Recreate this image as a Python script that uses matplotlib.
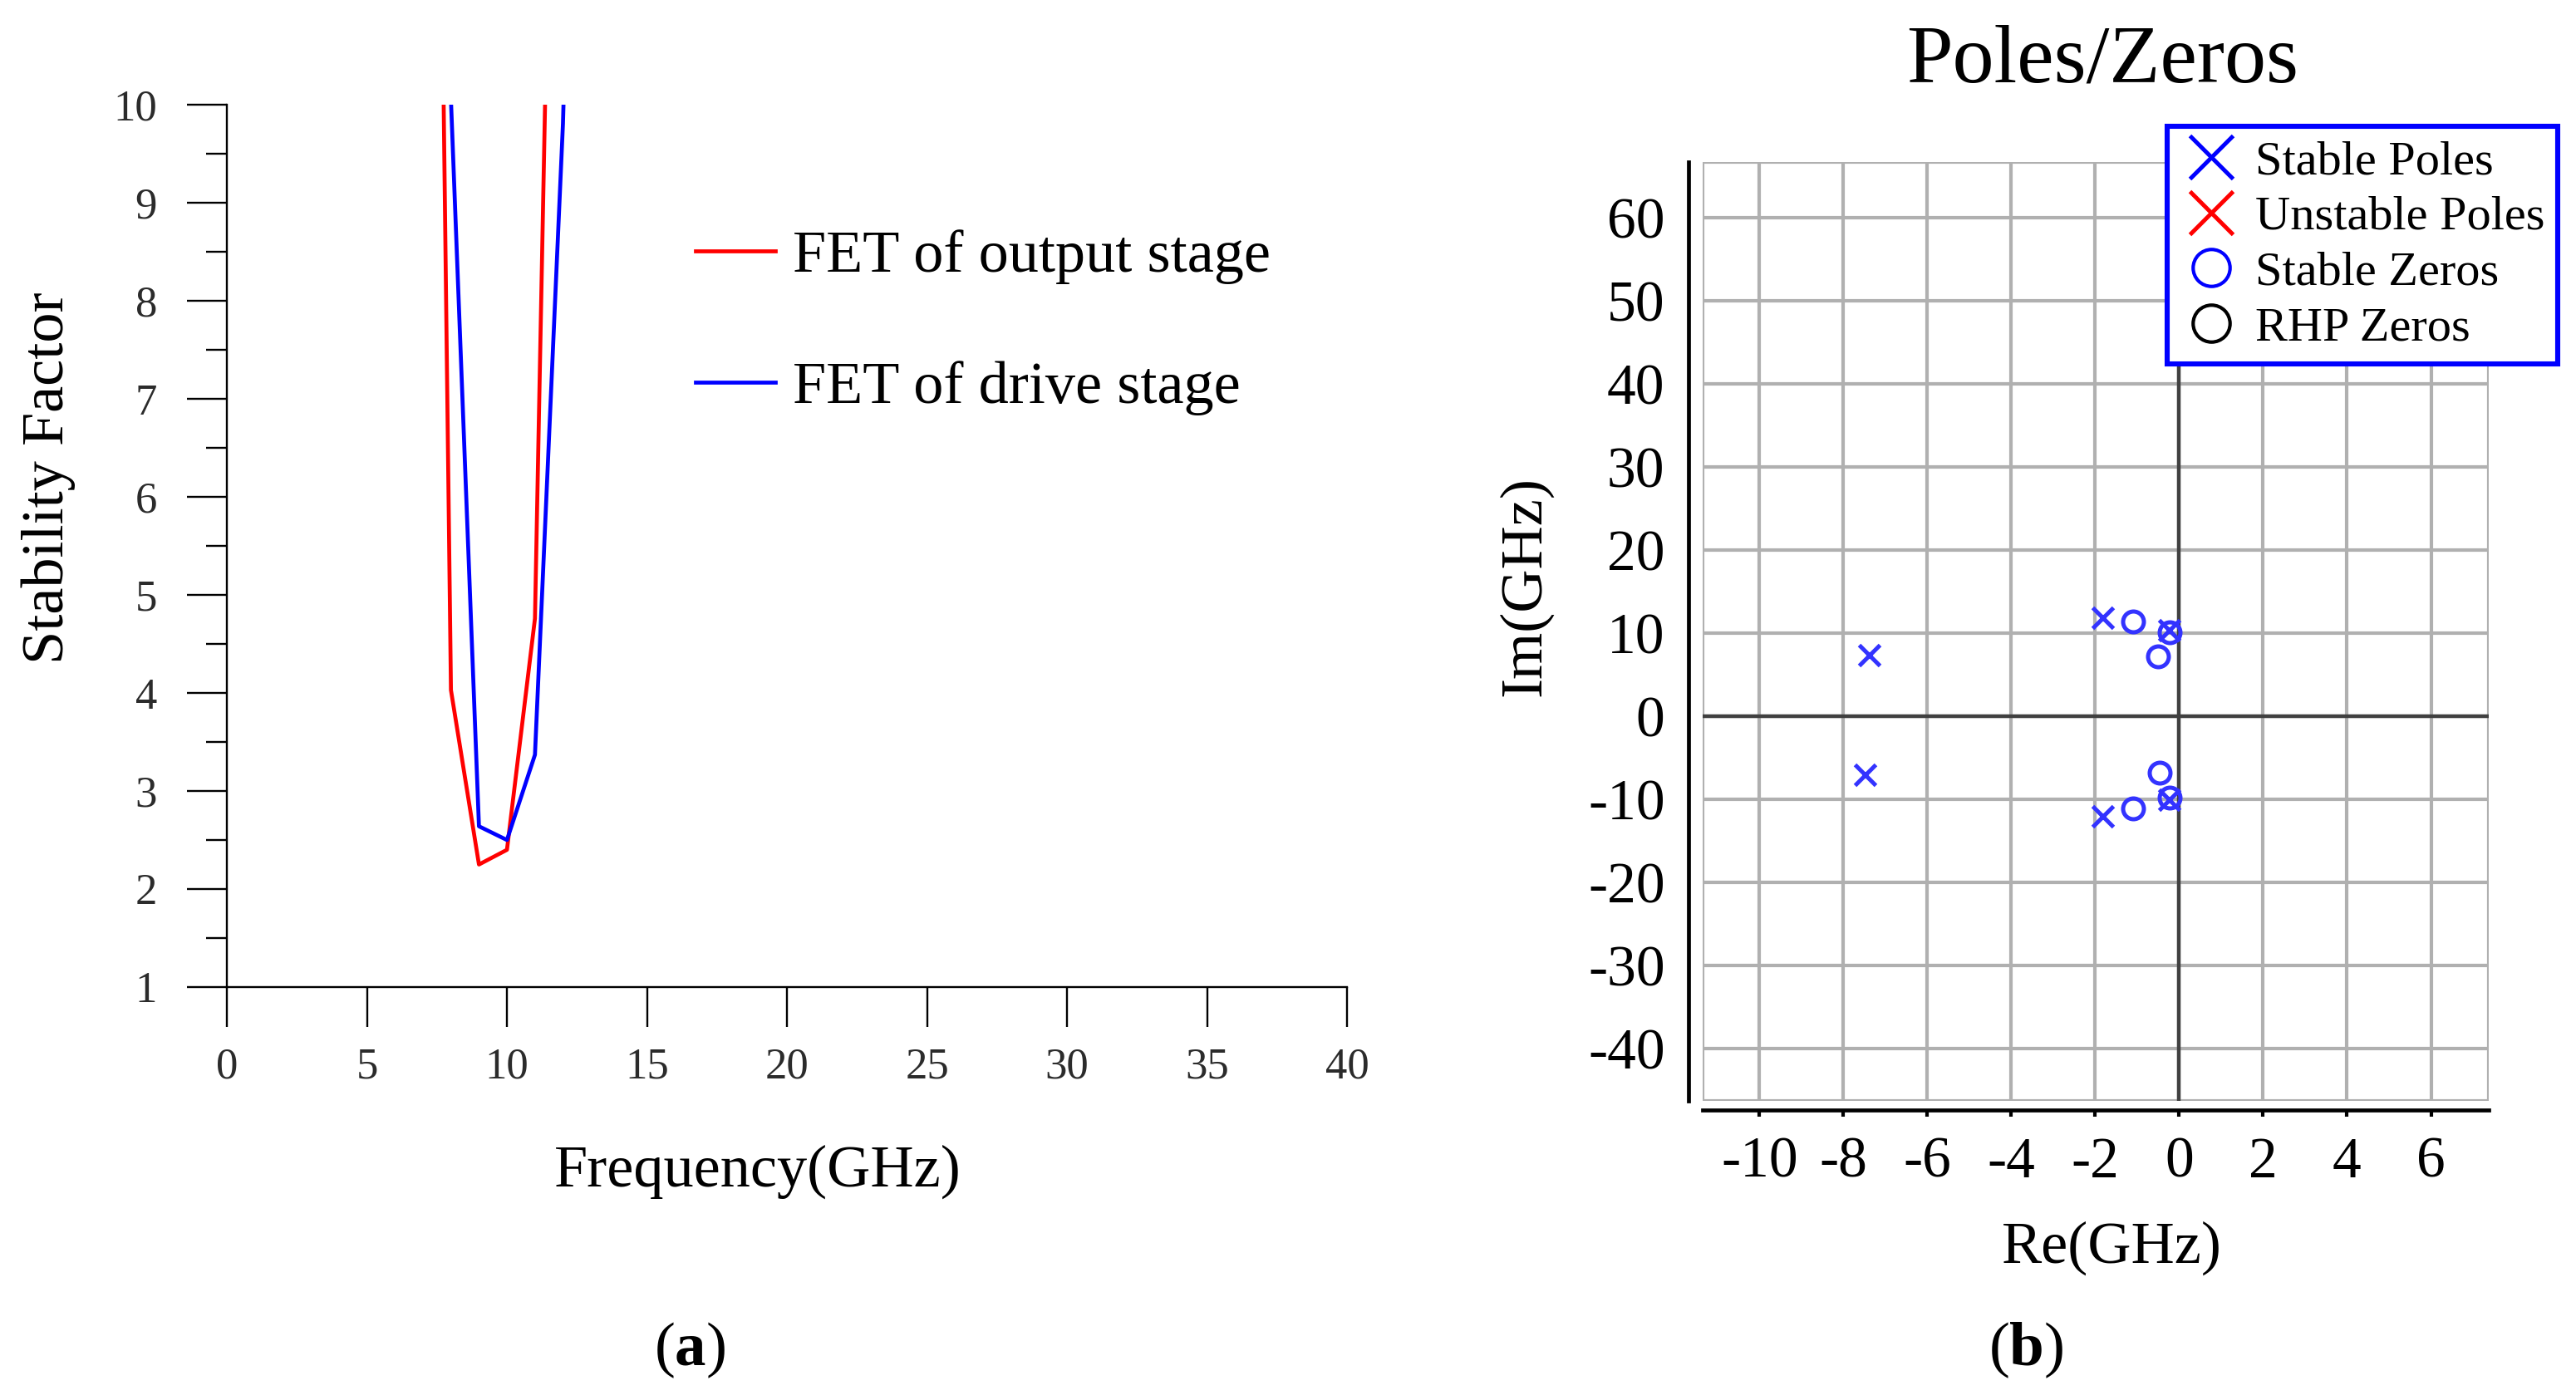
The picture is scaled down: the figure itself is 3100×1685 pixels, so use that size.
import matplotlib
matplotlib.use("Agg")
import matplotlib.pyplot as plt
from matplotlib.lines import Line2D
from matplotlib.patches import Rectangle

plt.rcParams['font.family'] = 'Liberation Serif'
plt.rcParams['mathtext.fontset'] = 'custom'
plt.rcParams['mathtext.rm'] = 'Liberation Serif'
plt.rcParams['mathtext.bf'] = 'Liberation Serif:bold'
plt.rcParams['axes.unicode_minus'] = False

# ---------------- data: (a) stability factor ----------------
freq = [7, 8, 9, 10, 11, 12, 13]
k_output = [27.0, 4.03, 2.25, 2.40, 4.76, 19.3, 35.0]
k_drive = [30.0, 10.05, 2.64, 2.50, 3.37, 9.81, 20.0]
x_ticks_a = list(range(0, 41, 5))
y_ticks_a = list(range(1, 11))

# ---------------- data: (b) poles / zeros (GHz) ----------------
pole_re = [-7.39, -7.49, -1.82, -1.82, -0.24, -0.24]
pole_im = [7.4, -7.0, 11.9, -12.0, 10.4, -10.0]
zero_re = [-1.10, -1.10, -0.50, -0.47, -0.22, -0.22]
zero_im = [11.4, -11.1, 7.2, -6.8, 10.1, -9.8]
x_ticks_b = list(range(-10, 7, 2))
y_ticks_b = list(range(-40, 61, 10))

fig = plt.figure(figsize=(15.5, 8.425), dpi=200)

# =====================================================
# (a) Stability factor
# =====================================================
ax1 = fig.add_axes([0.0881, 0.2950, 0.4348, 0.6300])
ax1.plot(freq, k_output, color='#ff0000', lw=1.7, label='FET of output stage')
ax1.plot(freq, k_drive, color='#0000ff', lw=1.7, label='FET of drive stage')
ax1.set_xlim(0, 40)
ax1.set_ylim(1, 10)
ax1.set_xticks(x_ticks_a)
ax1.set_yticks(y_ticks_a)
ax1.set_yticks([v + 0.5 for v in y_ticks_a[:-1]], minor=True)
for s in ['top', 'right']:
    ax1.spines[s].set_visible(False)
for s in ['left', 'bottom']:
    ax1.spines[s].set_linewidth(0.85)
ax1.tick_params(which='major', direction='out', length=17.3, width=0.85,
                labelsize=19, labelcolor='#2b2b2b')
ax1.tick_params(axis='y', which='major', pad=13)
ax1.tick_params(axis='x', which='major', pad=9)
ax1.tick_params(axis='y', which='minor', direction='out', length=9, width=0.85)

ax1.set_xlabel('Frequency(GHz)', fontsize=26)
ax1.xaxis.set_label_coords(0.474, -0.226)
ax1.xaxis.label.set_va('baseline')
ax1.set_ylabel('Stability Factor', fontsize=26)
ax1.yaxis.set_label_coords(-0.1595, 0.577)
ax1.yaxis.label.set_va('center')

ax1.legend(loc='upper left', bbox_to_anchor=(0.418, 0.859), frameon=False,
           fontsize=26, handlelength=1.33, handletextpad=0.3,
           labelspacing=1.28, borderpad=0, borderaxespad=0)

# =====================================================
# (b) Poles / Zeros
# =====================================================
ax2 = fig.add_axes([0.6610, 0.2136, 0.3052, 0.6706])
ax2.plot(pole_re, pole_im, ls='none', marker='x', ms=9, mew=1.8,
         color='#3333ff', zorder=4)
ax2.plot(zero_re, zero_im, ls='none', marker='o', ms=9, mew=1.8,
         mfc='none', mec='#3333ff', zorder=4)
ax2.set_xlim(-11.35, 7.38)
ax2.set_ylim(-46.3, 66.7)
ax2.set_xticks(x_ticks_b)
ax2.set_yticks(y_ticks_b)
ax2.grid(True, color='#b0b0b0', lw=1.5)
ax2.set_axisbelow(True)
ax2.axhline(0, color='#404040', lw=1.6, zorder=1.5)
ax2.axvline(0, color='#404040', lw=1.6, zorder=1.5)
ax2.add_patch(Rectangle((0, 0), 1, 1, transform=ax2.transAxes, fill=False,
                        ec='#b0b0b0', lw=1.5, zorder=1.2))
for s in ['top', 'right']:
    ax2.spines[s].set_visible(False)
ax2.spines['left'].set_position(('outward', 6))
ax2.spines['bottom'].set_position(('outward', 4))
for s in ['left', 'bottom']:
    ax2.spines[s].set_linewidth(1.7)
    ax2.spines[s].set_color('black')
ax2.tick_params(axis='x', direction='out', length=3, width=1.5, pad=8.6,
                labelsize=25)
ax2.tick_params(axis='y', length=0, pad=10.4, labelsize=25)

ax2.set_xlabel('Re(GHz)', fontsize=26)
ax2.xaxis.set_label_coords(0.520, -0.172)
ax2.xaxis.label.set_va('baseline')
ax2.set_ylabel('Im(GHz)', fontsize=26)
ax2.yaxis.set_label_coords(-0.226, 0.548)
ax2.yaxis.label.set_va('center')

fig.text(2530 / 3100, 1 - 99 / 1685, 'Poles/Zeros', fontsize=36,
         ha='center', va='baseline')

handles = [
    Line2D([], [], ls='none', marker='x', ms=19, mew=1.8, color='#0000ff',
           label='Stable Poles'),
    Line2D([], [], ls='none', marker='x', ms=19, mew=1.8, color='#ff0000',
           label='Unstable Poles'),
    Line2D([], [], ls='none', marker='o', ms=16, mew=1.5, mfc='none',
           mec='#0000ff', label='Stable Zeros'),
    Line2D([], [], ls='none', marker='o', ms=16, mew=1.5, mfc='none',
           mec='black', label='RHP Zeros'),
]
leg = fig.legend(handles=handles, loc='upper left',
                 bbox_to_anchor=(2608 / 3100, 1 - 152 / 1685), fontsize=21,
                 frameon=True, fancybox=False, edgecolor='#0000ff',
                 framealpha=1, borderpad=0.28, handlelength=1.25,
                 handletextpad=0.28, labelspacing=0.24, borderaxespad=0)
leg.get_frame().set_linewidth(2.2)

# panel captions
fig.text(830 / 3100, 1 - 1625 / 1685, r'($\mathbf{a}$)', fontsize=27,
         ha='center', va='center')
fig.text(2438 / 3100, 1 - 1625 / 1685, r'($\mathbf{b}$)', fontsize=27,
         ha='center', va='center')

fig.savefig('out.png', dpi=200)
